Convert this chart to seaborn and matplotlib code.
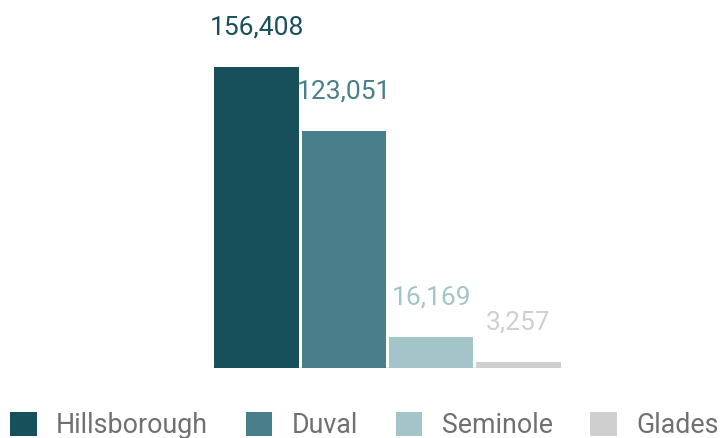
# 柱状图：四个县的数值对比，底部图例
import matplotlib
matplotlib.use('Agg')
import matplotlib.pyplot as plt
import seaborn as sns
import pandas as pd
from matplotlib.patches import Patch

# ==================================================
# 数据
# ==================================================
counties = ['Hillsborough', 'Duval', 'Seminole', 'Glades']
values = [156408, 123051, 16169, 3257]
colors = ['#174f5b', '#497f8b', '#a3c4c8', '#cfcfcf']

df = pd.DataFrame({'county': counties, 'value': values})

sns.set_style('white')
plt.rcParams['font.family'] = ['Roboto', 'DejaVu Sans']

fig = plt.figure(figsize=(7.21, 4.38), dpi=100)
# 坐标轴位置按像素估计
ax = fig.add_axes([0.2953, 0.1598, 0.4843, 0.791])

sns.barplot(data=df, x='county', y='value', hue='county',
            palette=colors, width=0.965, legend=False, ax=ax,
            saturation=1, edgecolor='none')

ax.set_xlim(-0.5, 3.5)
ax.set_ylim(0, 180000)
ax.axhline(0, color='#dde6e8', lw=1.2, zorder=0)
ax.set_axis_off()

# 数值标签（与柱子同色）
for i, (v, c) in enumerate(zip(values, colors)):
    ax.annotate(f'{v:,}', xy=(i, v), xytext=(0, 23.5), textcoords='offset points',
                ha='center', va='baseline', fontsize=19, color=c,
                annotation_clip=False)

# 图例
handles = [Patch(facecolor=c, edgecolor='none', label=n) for n, c in zip(counties, colors)]
fig.legend(handles=handles, loc='lower left', bbox_to_anchor=(0.0139, -0.003),
           ncol=4, frameon=False, fontsize=19.3, labelcolor='#707070',
           handlelength=1.0, handleheight=1.0, handletextpad=0.72,
           columnspacing=1.4, borderpad=0, borderaxespad=0)

fig.savefig('out.png', dpi=100)
